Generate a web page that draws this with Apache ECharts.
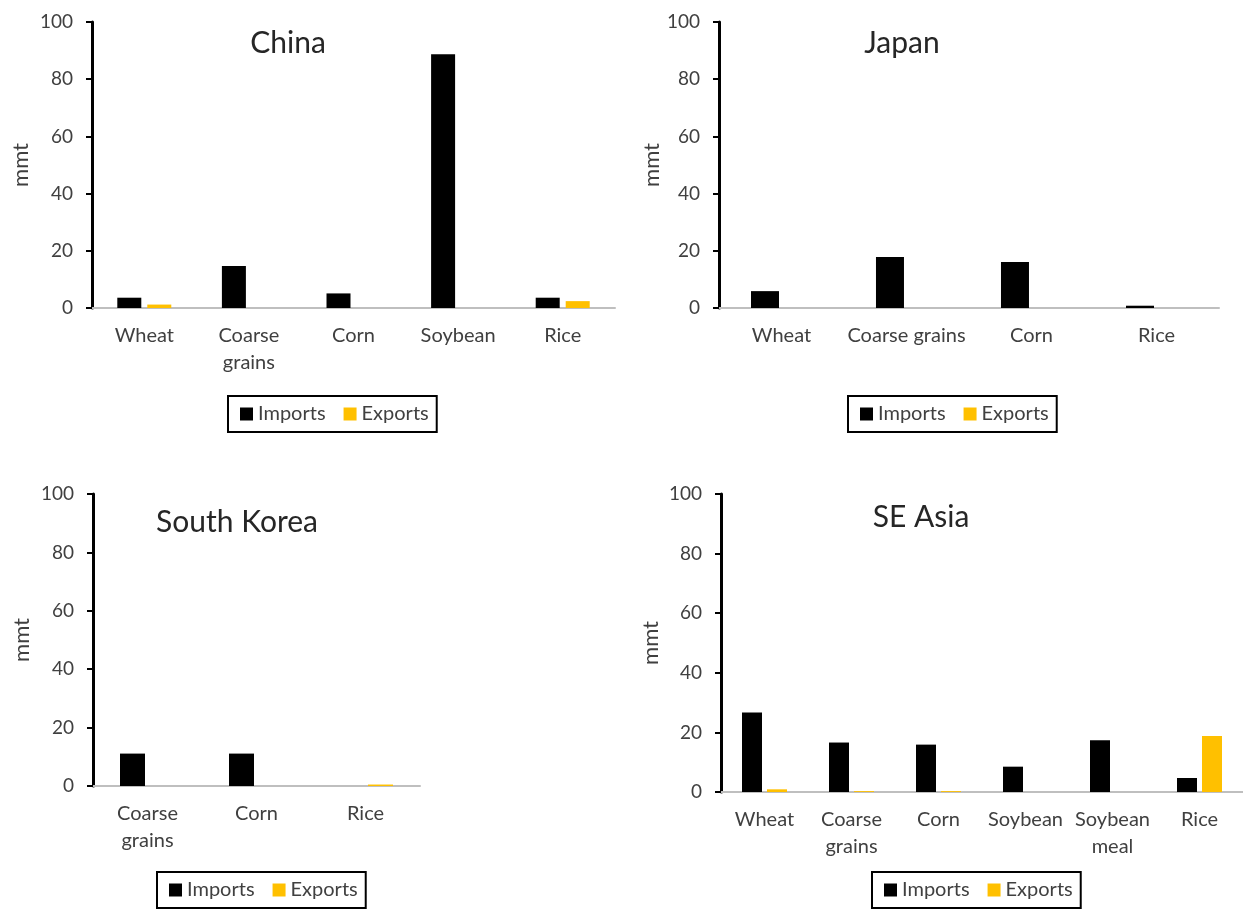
<!DOCTYPE html>
<html>
<head>
<meta charset="utf-8">
<script src="https://cdn.jsdelivr.net/npm/echarts@6/dist/echarts.min.js"></script>
<style>
html,body{margin:0;padding:0;background:#fff;overflow:hidden;}
#chart{width:1243px;height:909px;}
</style>
</head>
<body>
<div id="chart"></div>
<script>
// ---- data ----
const yTicks = [0, 20, 40, 60, 80, 100];
const seriesNames = ['Imports', 'Exports'];

const chinaCategories = ['Wheat', 'Coarse\ngrains', 'Corn', 'Soybean', 'Rice'];
const chinaImports = [3.6, 14.7, 5.1, 88.7, 3.6];
const chinaExports = [1.2, 0, 0, 0, 2.4];

const japanCategories = ['Wheat', 'Coarse grains', 'Corn', 'Rice'];
const japanImports = [5.9, 17.8, 16.1, 0.8];
const japanExports = [0, 0, 0, 0];

const koreaCategories = ['Coarse\ngrains', 'Corn', 'Rice'];
const koreaImports = [11.1, 11.1, 0];
const koreaExports = [0, 0, 0.5];

const seAsiaCategories = ['Wheat', 'Coarse\ngrains', 'Corn', 'Soybean', 'Soybean\nmeal', 'Rice'];
const seAsiaImports = [26.7, 16.6, 15.9, 8.5, 17.4, 4.7];
const seAsiaExports = [0.9, 0.3, 0.3, 0, 0, 18.8];

// ---- styling / layout ----
const FONT = 'Lato, "Open Sans", sans-serif';
const TXT = '#404040';
const IMP = '#000000';
const EXP = '#FFC000';

const panels = [
  {title: 'China', cats: chinaCategories, imp: chinaImports, exp: chinaExports,
   grid: {left: 92, top: 22, width: 523, height: 286}, barW: 24, gap: '25%',
   titlePos: {x: 288, y: 43}, legend: {x: 228, y: 396}, nameGap: 60},
  {title: 'Japan', cats: japanCategories, imp: japanImports, exp: japanExports,
   grid: {left: 719, top: 22, width: 500, height: 286}, barW: 28, gap: '18%',
   titlePos: {x: 902, y: 43}, legend: {x: 848, y: 396}, nameGap: 56},
  {title: 'South Korea', cats: koreaCategories, imp: koreaImports, exp: koreaExports,
   grid: {left: 93, top: 494, width: 327, height: 292}, barW: 25, gap: '20%',
   titlePos: {x: 237, y: 522}, legend: {x: 157, y: 872}, nameGap: 60},
  {title: 'SE Asia', cats: seAsiaCategories, imp: seAsiaImports, exp: seAsiaExports,
   grid: {left: 721, top: 494, width: 528, height: 298}, barW: 20, gap: '25%',
   titlePos: {x: 921, y: 517}, legend: {x: 872, y: 872}, nameGap: 59}
];

const option = {
  animation: false,
  backgroundColor: '#fff',
  textStyle: {fontFamily: FONT},
  title: [], grid: [], xAxis: [], yAxis: [], series: [], legend: []
};

panels.forEach((p, i) => {
  option.title.push({
    text: p.title, left: p.titlePos.x, top: p.titlePos.y - 18, textAlign: 'center', padding: 0,
    textStyle: {fontFamily: FONT, fontSize: 30, fontWeight: 'normal', color: '#262626', lineHeight: 36}
  });
  option.grid.push(Object.assign({containLabel: false}, p.grid));
  option.xAxis.push({
    type: 'category', gridIndex: i, data: p.cats,
    axisLine: {lineStyle: {color: '#bfbfbf', width: 2}},
    axisTick: {show: false},
    axisLabel: {color: TXT, fontSize: 20, fontFamily: FONT, margin: 14, lineHeight: 27, interval: 0}
  });
  option.yAxis.push({
    type: 'value', gridIndex: i, min: yTicks[0], max: yTicks[yTicks.length - 1], interval: yTicks[1] - yTicks[0],
    name: 'mmt', nameLocation: 'middle', nameRotate: 90, nameGap: p.nameGap,
    nameTextStyle: {color: TXT, fontSize: 22, fontFamily: FONT},
    axisLine: {show: true, lineStyle: {color: '#000', width: 3}},
    axisTick: {show: true, length: 6, lineStyle: {color: '#000', width: 2}},
    splitLine: {show: false},
    axisLabel: {color: TXT, fontSize: 19, fontFamily: FONT, margin: 19}
  });
  option.series.push({
    name: seriesNames[0], type: 'bar', xAxisIndex: i, yAxisIndex: i, data: p.imp,
    barWidth: p.barW, barGap: p.gap, itemStyle: {color: IMP}
  });
  option.series.push({
    name: seriesNames[1], type: 'bar', xAxisIndex: i, yAxisIndex: i, data: p.exp,
    barWidth: p.barW, barGap: p.gap, itemStyle: {color: EXP}
  });
  option.legend.push({
    data: seriesNames, left: p.legend.x, top: p.legend.y, orient: 'horizontal',
    icon: 'rect', itemWidth: 13, itemHeight: 13, itemGap: 18,
    borderColor: '#000', borderWidth: 2, borderRadius: 0, padding: [8, 8, 8, 12],
    textStyle: {color: TXT, fontSize: 20, fontFamily: FONT, lineHeight: 20},
    selectedMode: false
  });
});

echarts.init(document.getElementById('chart'), null, {renderer: 'canvas'}).setOption(option);
</script>
</body>
</html>
